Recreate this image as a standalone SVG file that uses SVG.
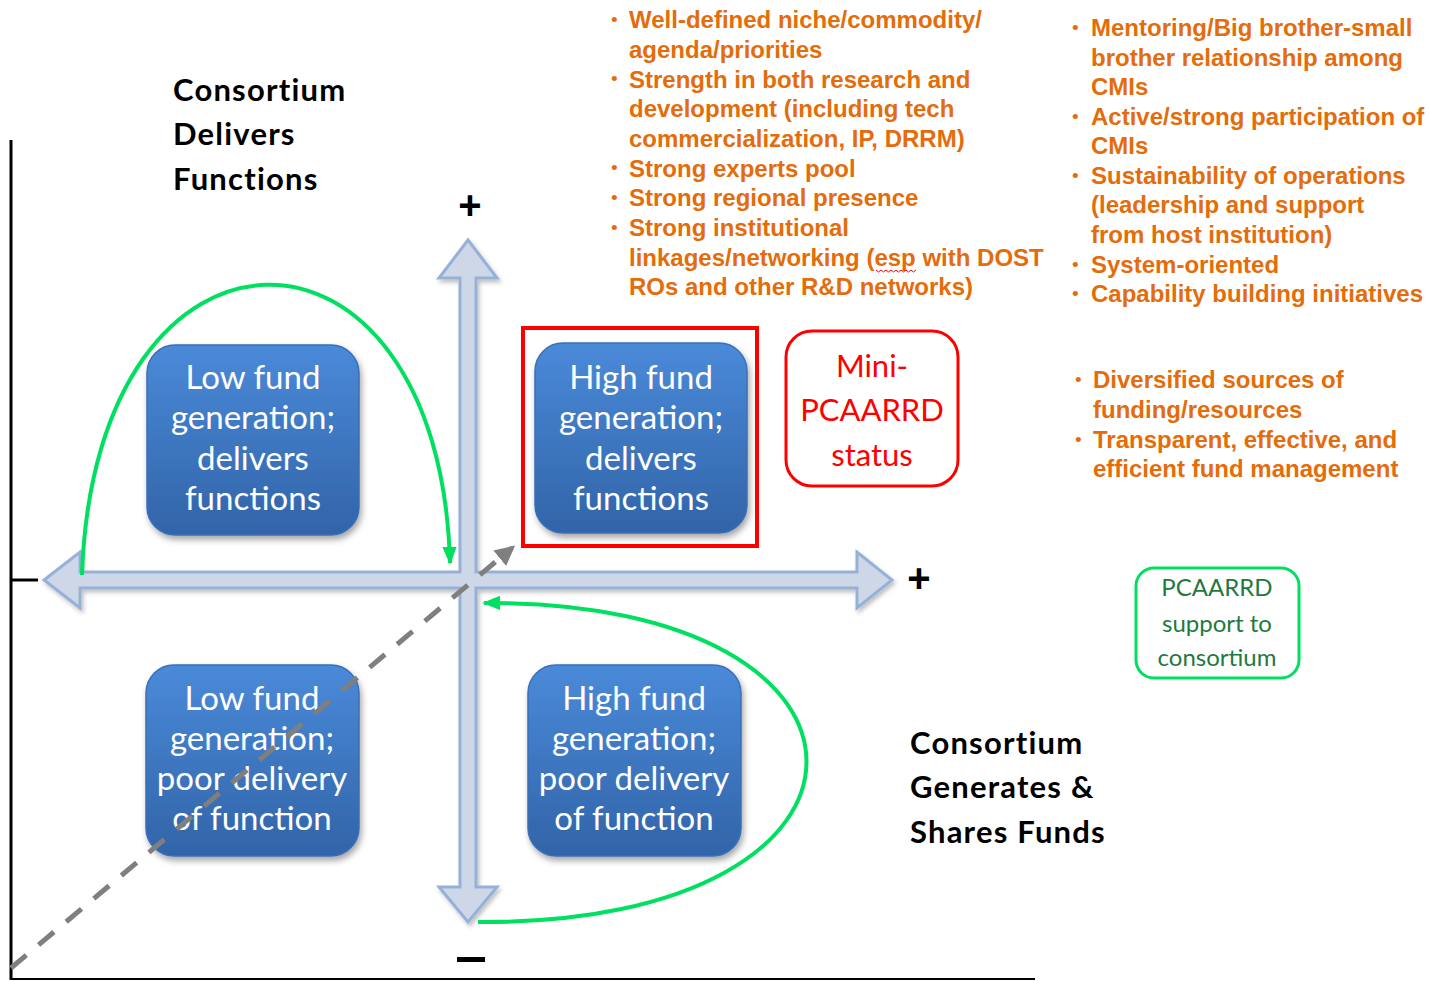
<svg xmlns="http://www.w3.org/2000/svg" width="1429" height="981" viewBox="0 0 1429 981">
<defs>
<linearGradient id="blueGrad" x1="0" y1="0" x2="0" y2="1">
<stop offset="0" stop-color="#4a8ad9"/>
<stop offset="1" stop-color="#3264a8"/>
</linearGradient>
<filter id="shadow" x="-10%" y="-10%" width="130%" height="130%">
<feDropShadow dx="2" dy="4" stdDeviation="3" flood-color="#000" flood-opacity="0.35"/>
</filter>
<filter id="softShadow" x="-5%" y="-5%" width="115%" height="115%">
<feDropShadow dx="2" dy="3" stdDeviation="2" flood-color="#000" flood-opacity="0.25"/>
</filter>
<marker id="greenHead" viewBox="0 0 10 10" refX="9" refY="5" markerWidth="4.5" markerHeight="4.5" orient="auto" markerUnits="strokeWidth">
<path d="M0,1 L10,5 L0,9 Z" fill="#00e060"/>
</marker>
<marker id="grayHead" viewBox="0 0 10 10" refX="8" refY="5" markerWidth="4" markerHeight="4" orient="auto" markerUnits="strokeWidth">
<path d="M0,0 L10,5 L0,10 Z" fill="#7f7f7f"/>
</marker>
</defs>
<style>
.orange{font-family:"Liberation Sans",Arial,sans-serif;font-weight:bold;font-size:24px;fill:#e46c0a}
.bullet{font-family:"Liberation Sans",Arial,sans-serif;font-size:19px;fill:#e46c0a}
.title{font-family:Lato,"Open Sans",sans-serif;font-weight:bold;font-size:31px;letter-spacing:1.2px;fill:#000}
.boxtxt{font-family:Lato,"Open Sans",sans-serif;font-size:33px;fill:#fff;text-anchor:middle}
.box{fill:url(#blueGrad);stroke:#3a6fb8;stroke-width:1.5;filter:url(#shadow)}
.redtxt{font-family:Lato,"Open Sans",sans-serif;font-size:31px;fill:#ff0000;text-anchor:middle}
.greentxt{font-family:Lato,"Open Sans",sans-serif;font-size:24px;fill:#1f7a3e;text-anchor:middle}
.sign{font-family:"Liberation Sans",Arial,sans-serif;font-weight:bold;font-size:40px;fill:#000;text-anchor:middle}
.curve{fill:none;stroke:#00e060;stroke-width:4;marker-end:url(#greenHead)}
</style>
<rect width="1429" height="981" fill="#fff"/>

<g id="axes-frame">
<line x1="11" y1="140" x2="11" y2="980" stroke="#000" stroke-width="3"/>
<line x1="11" y1="979" x2="1035" y2="979" stroke="#000" stroke-width="2"/>
<line x1="11" y1="580" x2="38" y2="580" stroke="#000" stroke-width="3"/>
</g>

<g id="cross-arrows">
<path d="M468,240 L497,278 L476,278 L476,572 L857,572 L857,552 L892,580 L857,608 L857,588 L476,588 L476,887 L497,887 L468,922 L439,887 L460,887 L460,588 L80,588 L80,608 L44,580 L80,552 L80,572 L460,572 L460,278 L439,278 Z" fill="#cdd7e7" stroke="#95b1d9" stroke-width="3" filter="url(#softShadow)"/>
</g>

<g id="signs">
<text class="sign" x="470" y="219">+</text>
<text class="sign" x="919" y="592">+</text>
<rect x="457" y="957" width="28" height="5" fill="#000"/>
</g>

<g id="title-functions">
<text class="title" x="173" y="101">Consortium</text>
<text class="title" x="173" y="145">Delivers</text>
<text class="title" x="173" y="190">Functions</text>
</g>

<g id="title-funds">
<text class="title" x="910" y="754">Consortium</text>
<text class="title" x="910" y="798">Generates &amp;</text>
<text class="title" x="910" y="843">Shares Funds</text>
</g>

<g id="box-low-delivers">
<rect class="box" x="147" y="345" width="212" height="190" rx="28"/>
<text class="boxtxt" x="253" y="389">Low fund</text>
<text class="boxtxt" x="253" y="429">generation;</text>
<text class="boxtxt" x="253" y="470">delivers</text>
<text class="boxtxt" x="253" y="510">functions</text>
</g>

<g id="box-high-delivers">
<rect x="523" y="328" width="234" height="218" fill="none" stroke="#ff0000" stroke-width="4"/>
<rect class="box" x="535" y="343" width="212" height="190" rx="28"/>
<text class="boxtxt" x="641" y="389">High fund</text>
<text class="boxtxt" x="641" y="429">generation;</text>
<text class="boxtxt" x="641" y="470">delivers</text>
<text class="boxtxt" x="641" y="510">functions</text>
</g>

<g id="box-low-poor">
<rect class="box" x="146" y="665" width="213" height="191" rx="28"/>
<text class="boxtxt" x="252" y="710">Low fund</text>
<text class="boxtxt" x="252" y="750">generation;</text>
<text class="boxtxt" x="252" y="790">poor delivery</text>
<text class="boxtxt" x="252" y="830">of function</text>
</g>

<g id="box-high-poor">
<rect class="box" x="528" y="665" width="213" height="191" rx="28"/>
<text class="boxtxt" x="634" y="710">High fund</text>
<text class="boxtxt" x="634" y="750">generation;</text>
<text class="boxtxt" x="634" y="790">poor delivery</text>
<text class="boxtxt" x="634" y="830">of function</text>
</g>

<g id="mini-pcaarrd">
<rect x="786" y="331" width="172" height="155" rx="26" fill="#fff" stroke="#ff0000" stroke-width="3"/>
<text class="redtxt" x="872" y="377">Mini-</text>
<text class="redtxt" x="872" y="421">PCAARRD</text>
<text class="redtxt" x="872" y="466">status</text>
</g>

<g id="pcaarrd-support">
<rect x="1136" y="568" width="163" height="110" rx="18" fill="#fff" stroke="#00e060" stroke-width="3"/>
<text class="greentxt" x="1217" y="596">PCAARRD</text>
<text class="greentxt" x="1217" y="632">support to</text>
<text class="greentxt" x="1217" y="666">consortium</text>
</g>

<g id="list-functions">
<text class="bullet" x="611" y="26">•</text>
<text class="orange" x="629" y="28">Well-defined niche/commodity/</text>
<text class="orange" x="629" y="58">agenda/priorities</text>
<text class="bullet" x="611" y="85">•</text>
<text class="orange" x="629" y="87.5">Strength in both research and</text>
<text class="orange" x="629" y="117">development (including tech</text>
<text class="orange" x="629" y="147">commercialization, IP, DRRM)</text>
<text class="bullet" x="611" y="174">•</text>
<text class="orange" x="629" y="176.5">Strong experts pool</text>
<text class="bullet" x="611" y="204">•</text>
<text class="orange" x="629" y="206">Strong regional presence</text>
<text class="bullet" x="611" y="234">•</text>
<text class="orange" x="629" y="236">Strong institutional</text>
<text class="orange" x="629" y="265.5">linkages/networking (esp with DOST</text>
<text class="orange" x="629" y="295">ROs and other R&amp;D networks)</text>
<path d="M876,270 l2.5,2 l2.5,-2 l2.5,2 l2.5,-2 l2.5,2 l2.5,-2 l2.5,2 l2.5,-2 l2.5,2 l2.5,-2 l2.5,2 l2.5,-2 l2.5,2 l2.5,-2 l2.5,2 l2.5,-2" fill="none" stroke="#ff0000" stroke-width="1"/>
</g>

<g id="list-support">
<text class="bullet" x="1072" y="34">•</text>
<text class="orange" x="1091" y="36">Mentoring/Big brother-small</text>
<text class="orange" x="1091" y="66">brother relationship among</text>
<text class="orange" x="1091" y="95">CMIs</text>
<text class="bullet" x="1072" y="123">•</text>
<text class="orange" x="1091" y="125">Active/strong participation of</text>
<text class="orange" x="1091" y="154">CMIs</text>
<text class="bullet" x="1072" y="182">•</text>
<text class="orange" x="1091" y="184">Sustainability of operations</text>
<text class="orange" x="1091" y="213">(leadership and support</text>
<text class="orange" x="1091" y="243">from host institution)</text>
<text class="bullet" x="1072" y="271">•</text>
<text class="orange" x="1091" y="273">System-oriented</text>
<text class="bullet" x="1072" y="300">•</text>
<text class="orange" x="1091" y="302">Capability building initiatives</text>
</g>

<g id="list-funds">
<text class="bullet" x="1075" y="386">•</text>
<text class="orange" x="1093" y="388">Diversified sources of</text>
<text class="orange" x="1093" y="418">funding/resources</text>
<text class="bullet" x="1075" y="446">•</text>
<text class="orange" x="1093" y="448">Transparent, effective, and</text>
<text class="orange" x="1093" y="477">efficient fund management</text>
</g>

<g id="connectors">
<path class="curve" d="M82,575 C95,190 440,190 450,563"/>
<path class="curve" d="M478,922 C915,925 915,600 484,603"/>
<line x1="11" y1="968" x2="512" y2="548" stroke="#7f7f7f" stroke-width="5" stroke-dasharray="20,16" marker-end="url(#grayHead)"/>
</g>
</svg>
